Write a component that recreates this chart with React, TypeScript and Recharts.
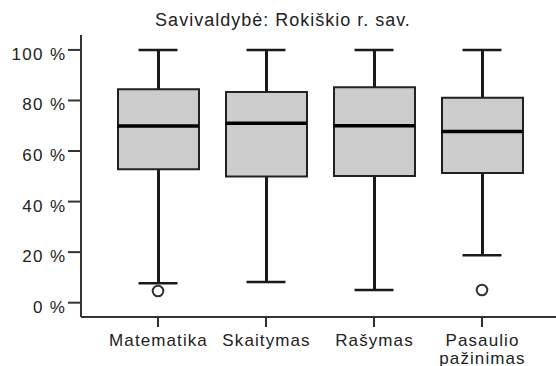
import React from 'react';
import { ComposedChart, Bar, Scatter, XAxis, YAxis } from 'recharts';

const categories = ['Matematika', 'Skaitymas', 'Rašymas', 'Pasaulio pažinimas'];
const whiskerLow = [7.7, 8.2, 5.0, 18.8];
const quartile1 = [52.8, 49.9, 50.1, 51.3];
const medians = [69.9, 71.0, 70.0, 67.7];
const quartile3 = [84.4, 83.4, 85.2, 81.1];
const whiskerHigh = [100, 100, 100, 100];
const outliers: (number | null)[] = [4.6, null, null, 5.0];
const yTicks = [0, 20, 40, 60, 80, 100];
const title = 'Savivaldybė: Rokiškio r. sav.';

const data = categories.map((name, i) => ({
  name,
  whisker: [whiskerLow[i], whiskerHigh[i]],
  box: [quartile1[i], quartile3[i]],
  lo: whiskerLow[i],
  hi: whiskerHigh[i],
  median: medians[i],
  outlier: outliers[i],
}));

const FONT = '"Liberation Sans", Arial, sans-serif';
const TEXT = '#222';
const AXIS = '#333';
const PAD = { left: 23, right: 20 };

const XTick = (props: any) => {
  const { x, y, payload } = props;
  const lines = String(payload.value).split(' ');
  return (
    <text x={x + 0.5} y={y} textAnchor="middle" fill={TEXT} fontSize={17} fontFamily={FONT} letterSpacing={1.1}>
      {lines.map((l, i) => (
        <tspan key={i} x={x + 0.5} dy={i === 0 ? 17 : 18}>{l}</tspan>
      ))}
    </text>
  );
};

const YTick = (props: any) => {
  const { x, y, payload } = props;
  return (
    <text x={x + 1.3} y={y + 10} textAnchor="end" fill={TEXT} fontSize={17} fontFamily={FONT} letterSpacing={1.3}>
      {`${payload.value} %`}
    </text>
  );
};

const hLine = (w: number, sw: number, color: string) => (props: any) => {
  const { cx, cy } = props;
  if (cx == null || cy == null || isNaN(cx) || isNaN(cy)) return <g />;
  return <line x1={cx - w / 2} x2={cx + w / 2} y1={cy} y2={cy} stroke={color} strokeWidth={sw} />;
};

const OutlierShape = (props: any) => {
  const { cx, cy, payload } = props;
  if (payload == null || payload.outlier == null || isNaN(cy)) return <g />;
  return <circle cx={cx} cy={cy} r={5.3} fill="#fff" stroke="#333" strokeWidth={2} />;
};

export default function App() {
  return (
    <div style={{ position: 'absolute', left: 0, top: 0, width: 556, height: 366, background: '#fff' }}>
      <ComposedChart width={556} height={366} data={data} margin={{ top: 35, right: 0, bottom: 0, left: 0 }}>
        <text x={283} y={26} textAnchor="middle" fill={TEXT} fontSize={18} fontFamily={FONT} letterSpacing={1.0}>
          {title}
        </text>
        <XAxis
          xAxisId="main"
          dataKey="name"
          type="category"
          interval={0}
          padding={PAD}
          height={49}
          tickSize={10}
          tickMargin={2}
          axisLine={{ stroke: AXIS, strokeWidth: 2 }}
          tickLine={{ stroke: AXIS, strokeWidth: 2 }}
          tick={<XTick />}
        />
        <XAxis xAxisId="w" dataKey="name" type="category" padding={PAD} hide />
        <XAxis
          xAxisId="top"
          dataKey="name"
          type="category"
          orientation="top"
          padding={PAD}
          height={0}
          tick={false}
          tickLine={false}
          axisLine={{ stroke: '#8a8a8a', strokeWidth: 2 }}
        />
        <YAxis
          type="number"
          domain={[-5.66, 105.9]}
          ticks={yTicks}
          allowDataOverflow
          width={81}
          tickSize={13}
          tickMargin={3}
          axisLine={{ stroke: AXIS, strokeWidth: 2 }}
          tickLine={{ stroke: AXIS, strokeWidth: 2 }}
          tick={<YTick />}
        />
        <Bar xAxisId="w" dataKey="whisker" fill="#1a1a1a" barSize={3} isAnimationActive={false} />
        <Bar xAxisId="top" dataKey="box" fill="#cccccc" stroke="#222" strokeWidth={2} barSize={81} isAnimationActive={false} />
        <Scatter xAxisId="main" dataKey="hi" shape={hLine(39, 2.5, '#1a1a1a')} isAnimationActive={false} />
        <Scatter xAxisId="main" dataKey="lo" shape={hLine(39, 2.5, '#1a1a1a')} isAnimationActive={false} />
        <Scatter xAxisId="main" dataKey="median" shape={hLine(81, 3.5, '#000')} isAnimationActive={false} />
        <Scatter xAxisId="main" dataKey="outlier" shape={<OutlierShape />} isAnimationActive={false} />
      </ComposedChart>
    </div>
  );
}
